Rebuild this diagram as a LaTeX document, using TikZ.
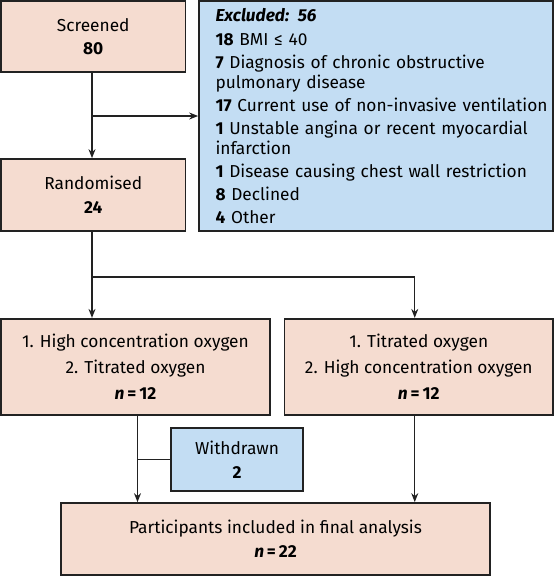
\documentclass[tikz,border=0pt]{standalone}
\usepackage{fontspec}
\setmainfont{Fira Sans}
\usetikzlibrary{arrows.meta}
\definecolor{pinkfill}{HTML}{F5DCD0}
\definecolor{bluefill}{HTML}{C3DDF3}
\definecolor{edgecol}{HTML}{222222}
\tikzset{
  boxbase/.style={draw=edgecol, line width=1.7pt, inner sep=0pt, align=center},
  pinkbox/.style={boxbase, fill=pinkfill},
  bluebox/.style={boxbase, fill=bluefill},
  conn/.style={draw=edgecol, line width=1.3pt},
  arr/.style={conn, -{Stealth[length=9pt,width=7pt]}}
}
\begin{document}
\begin{tikzpicture}[x=1pt,y=-1pt]
\useasboundingbox (0,0) rectangle (555,576);
\node[pinkbox, minimum width=184.5pt, minimum height=71pt, font=\fontsize{17.3}{23}\selectfont] (scr) at (93.25,36.5) {Screened\\\textbf{80}};
\node[pinkbox, minimum width=184.5pt, minimum height=72pt, font=\fontsize{17.3}{24}\selectfont] (rand) at (93.25,195) {Randomised\\\textbf{24}};
\node[bluebox, minimum width=354pt, minimum height=230pt, text width=343pt, inner xsep=0pt, align=left, font=\fontsize{17.3}{20}\selectfont] (excl) at (376,116) {\hspace*{11pt}\parbox[t]{340pt}{\raggedright
\textbf{\textit{Excluded: 56}}\\[4pt]
\textbf{18} BMI ≤ 40\\[3pt]
\textbf{7} Diagnosis of chronic obstructive\\
pulmonary disease\\[3pt]
\textbf{17} Current use of non-invasive ventilation\\[3pt]
\textbf{1} Unstable angina or recent myocardial\\
infarction\\[3pt]
\textbf{1} Disease causing chest wall restriction\\[3pt]
\textbf{8} Declined\\[3pt]
\textbf{4} Other}};
\node[pinkbox, minimum width=269pt, minimum height=96.5pt, font=\fontsize{17.3}{26}\selectfont] (left) at (135.5,367) {1. High concentration oxygen\\2. Titrated oxygen\\\textbf{\textit{n}\thinspace=\thinspace12}};
\node[pinkbox, minimum width=268.5pt, minimum height=96.5pt, font=\fontsize{17.3}{26}\selectfont] (right) at (418.75,367) {1. Titrated oxygen\\2. High concentration oxygen\\\textbf{\textit{n}\thinspace=\thinspace12}};
\node[bluebox, minimum width=132pt, minimum height=63pt, font=\fontsize{17.3}{24}\selectfont] (wd) at (237,459.5) {Withdrawn\\\textbf{2}};
\node[pinkbox, minimum width=428.5pt, minimum height=72pt, font=\fontsize{17.3}{24}\selectfont] (final) at (275.5,539) {Participants included in final analysis\\\textbf{\textit{n}\thinspace=\thinspace22}};
% connectors
\coordinate (scrout) at ([xshift=-1.25pt]scr.south);
\draw[arr] (scrout) -- (scrout |- rand.north);
\draw[arr] (scrout |- excl.west) -- (excl.west);
\coordinate (randout) at ([xshift=-1.25pt]rand.south);
\coordinate (split) at (randout |- 0,277);
\coordinate (rightin) at ([xshift=-4pt]right.north);
\draw[arr] (randout) -- (randout |- left.north);
\draw[arr] (split) -| (rightin);
\coordinate (leftout) at ([xshift=2pt]left.south);
\draw[arr] (leftout) -- (leftout |- final.north);
\draw[conn] (leftout |- wd.west) -- (wd.west);
\coordinate (rightout) at ([xshift=-4pt]right.south);
\draw[arr] (rightout) -- (rightout |- final.north);
\end{tikzpicture}
\end{document}
